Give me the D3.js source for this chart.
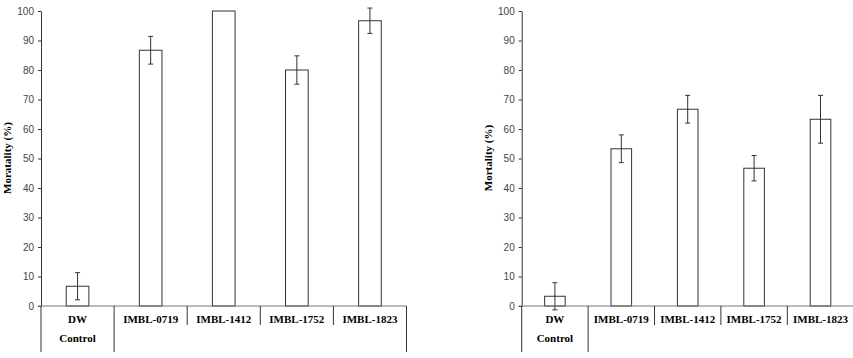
<!DOCTYPE html>
<html>
<head>
<meta charset="utf-8">
<script src="https://cdn.jsdelivr.net/npm/d3@7"></script>
<style>
  body { margin: 0; background: #fff; }
  svg { display: block; }
</style>
</head>
<body>
<div id="chart"></div>
<script>
// categories shared by both panels
const categories = ["DW", "IMBL-0719", "IMBL-1412", "IMBL-1752", "IMBL-1823"];
const subLabels = ["Control", "", "", "", ""];
const yTicks = [0, 10, 20, 30, 40, 50, 60, 70, 80, 90, 100];

// left panel
const leftMeans = [6.7, 86.7, 100, 80, 96.7];
const leftErrors = [4.6, 4.7, 0, 4.8, 4.3];

// right panel
const rightMeans = [3.3, 53.3, 66.7, 46.7, 63.3];
const rightErrors = [4.6, 4.7, 4.7, 4.3, 8.1];

const W = 853, H = 358;
const svg = d3.select("#chart").append("svg")
  .attr("width", W)
  .attr("height", H)
  .style("background-color", "#FFFFFF");

// draw one panel: axis, bars, error bars and the boxed category labels
function panel(opts) {
  const g = svg.append("g");
  let x = d3.scaleBand().domain(categories).range([opts.left, opts.right]).padding(0);
  let y = d3.scaleLinear().domain([0, 100]).range([306, 11]);
  let bw = x.bandwidth() * 0.31;

  // bars
  g.selectAll("rect.bar")
    .data(opts.means)
    .enter().append("rect")
      .attr("class", "bar")
      .attr("x", (d, i) => x(categories[i]) + x.bandwidth() / 2 - bw / 2)
      .attr("y", d => y(d))
      .attr("width", bw)
      .attr("height", d => y(0) - y(d))
      .attr("fill", "#fff")
      .attr("stroke", "#333")
      .attr("stroke-width", 1);

  // error bars
  let eb = g.selectAll("g.err")
    .data(opts.means.map((m, i) => ({ m: m, e: opts.errors[i], c: categories[i] })).filter(d => d.e > 0))
    .enter().append("g")
      .attr("class", "err")
      .attr("stroke", "#333")
      .attr("stroke-width", 1);
  eb.append("line")
    .attr("x1", d => x(d.c) + x.bandwidth() / 2)
    .attr("x2", d => x(d.c) + x.bandwidth() / 2)
    .attr("y1", d => y(d.m + d.e))
    .attr("y2", d => y(d.m - d.e));
  [1, -1].forEach(function(s) {
    eb.append("line")
      .attr("x1", d => x(d.c) + x.bandwidth() / 2 - 2.5)
      .attr("x2", d => x(d.c) + x.bandwidth() / 2 + 2.5)
      .attr("y1", d => y(d.m + s * d.e))
      .attr("y2", d => y(d.m + s * d.e));
  });

  // y axis
  let ax = g.append("g")
    .attr("transform", "translate(" + opts.left + ",0)")
    .call(d3.axisLeft(y).tickValues(yTicks).tickSize(3).tickSizeOuter(0).tickPadding(4));
  ax.select(".domain").attr("stroke", "#333");
  ax.selectAll(".tick line").attr("stroke", "#333");
  ax.selectAll("text")
    .attr("fill", "#444")
    .style("font-family", "'Liberation Sans', Arial, sans-serif")
    .style("font-size", "10px");

  // x axis line and the table-like separators under it
  g.append("line")
    .attr("x1", opts.left - 3).attr("x2", opts.right)
    .attr("y1", y(0)).attr("y2", y(0))
    .attr("stroke", "#777");
  let edges = categories.map(c => x(c)).concat([opts.right]);
  g.selectAll("line.sep")
    .data(edges)
    .enter().append("line")
      .attr("class", "sep")
      .attr("x1", d => d).attr("x2", d => d)
      .attr("y1", y(0))
      .attr("y2", (d, i) => (i <= 1 || i === edges.length - 1) ? 352 : 325)
      .attr("stroke", "#333");

  // category labels
  g.selectAll("text.cat")
    .data(categories)
    .enter().append("text")
      .attr("class", "cat")
      .attr("x", d => x(d) + x.bandwidth() / 2)
      .attr("y", 323)
      .attr("text-anchor", "middle")
      .style("font-family", "'Liberation Serif', 'Times New Roman', serif")
      .style("font-weight", "bold")
      .style("font-size", "11px")
      .text(d => d);
  g.selectAll("text.sub")
    .data(subLabels)
    .enter().append("text")
      .attr("class", "sub")
      .attr("x", (d, i) => x(categories[i]) + x.bandwidth() / 2)
      .attr("y", 342)
      .attr("text-anchor", "middle")
      .style("font-family", "'Liberation Serif', 'Times New Roman', serif")
      .style("font-weight", "bold")
      .style("font-size", "11px")
      .text(d => d);

  // y axis title
  g.append("text")
    .attr("transform", "translate(" + opts.labelX + ",158) rotate(-90)")
    .attr("text-anchor", "middle")
    .style("font-family", "'Liberation Serif', 'Times New Roman', serif")
    .style("font-weight", "bold")
    .style("font-size", "11px")
    .text(opts.title);
}

panel({ left: 41, right: 406.5, means: leftMeans, errors: leftErrors, labelX: 11, title: "Moratality (%)" });
panel({ left: 521.7, right: 853.7, means: rightMeans, errors: rightErrors, labelX: 492, title: "Mortality (%)" });
</script>
</body>
</html>
